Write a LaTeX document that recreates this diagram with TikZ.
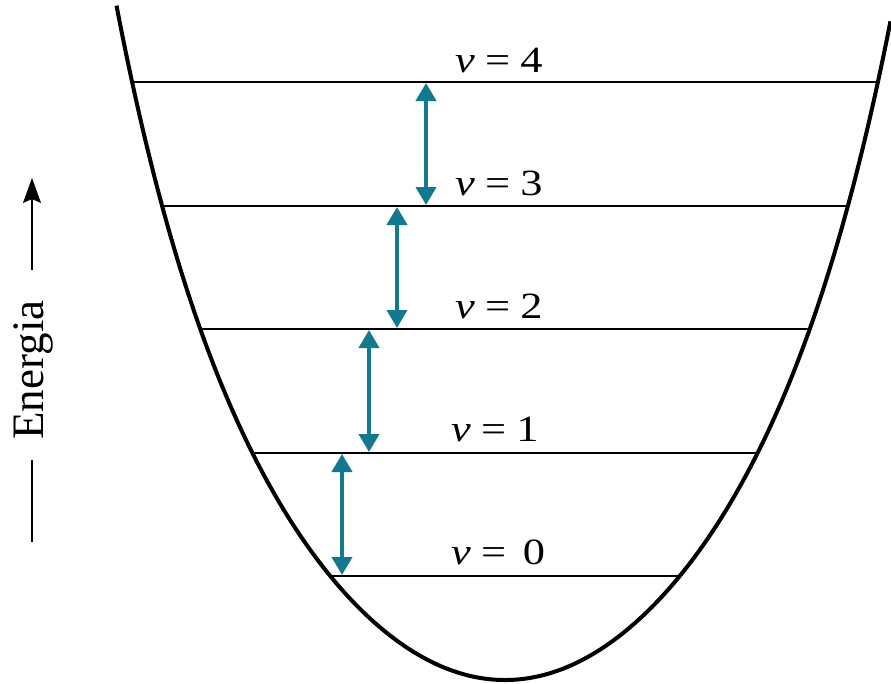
\documentclass[tikz,border=0pt]{standalone}
\usepackage{fontspec}
\setmainfont{Liberation Serif}
\usetikzlibrary{arrows.meta}
\definecolor{teal1}{RGB}{18,121,143}
\tikzset{
  well/.style={line width=4pt},
  level/.style={line width=1.4pt},
  trans/.style={teal1, line width=4.2pt, {Triangle[width=20pt,length=18pt]}-{Triangle[width=20pt,length=18pt]}},
  lab/.style={anchor=base west, inner sep=0pt, font=\fontsize{37}{42}\selectfont},
  axis/.style={line width=1.5pt}
}
\newcommand{\vlab}[2]{\scalebox{1.2}[1]{\textit{v}\hspace{8.5pt}=\hspace{#2}#1}}
\begin{document}
\begin{tikzpicture}[x=1pt,y=-1pt]
\useasboundingbox (0,0) rectangle (891,683);
% potential well
\draw[well] plot[domain=-3.885:3.855, samples=160, smooth] ({505+100*\x}, {680 - 33.6*\x*\x - 131*pow(\x*\x/13.9129,3)});
% levels
\coordinate (l4a) at (131,82);  \coordinate (l4b) at (878,82);
\coordinate (l3a) at (160,206); \coordinate (l3b) at (849,206);
\coordinate (l2a) at (200,329); \coordinate (l2b) at (809,329);
\coordinate (l1a) at (251,453); \coordinate (l1b) at (759,453);
\coordinate (l0a) at (330,576); \coordinate (l0b) at (680,576);
\draw[level] (l4a) -- (l4b);
\draw[level] (l3a) -- (l3b);
\draw[level] (l2a) -- (l2b);
\draw[level] (l1a) -- (l1b);
\draw[level] (l0a) -- (l0b);
% labels
\node[lab] (v4) at (455,72)  {\vlab{4}{8.5pt}};
\node[lab] (v3) at (455,195) {\vlab{3}{8.5pt}};
\node[lab] (v2) at (455,318) {\vlab{2}{8.5pt}};
\node[lab] (v1) at (451,441) {\vlab{1}{8.5pt}};
\node[lab] (v0) at (451,564) {\vlab{0}{14pt}};
% transitions
\coordinate (t1a) at (426,83);  \coordinate (t1b) at (426,205);
\coordinate (t2a) at (397,207); \coordinate (t2b) at (397,328);
\coordinate (t3a) at (369,330); \coordinate (t3b) at (369,452);
\coordinate (t4a) at (342,454); \coordinate (t4b) at (342,575);
\draw[trans] (t1a) -- (t1b);
\draw[trans] (t2a) -- (t2b);
\draw[trans] (t3a) -- (t3b);
\draw[trans] (t4a) -- (t4b);
% energy axis
\node[anchor=base, rotate=90, inner sep=0pt, font=\fontsize{45}{50}\selectfont] (en) at (43,370) {Energia};
\coordinate (ea) at (32,270); \coordinate (eb) at (32,178);
\coordinate (ec) at (32,460); \coordinate (ed) at (32,542);
\draw[axis, -{Stealth[length=25pt,width=18pt,inset=4pt]}] (ea) -- (eb);
\draw[axis] (ec) -- (ed);
\end{tikzpicture}
\end{document}
